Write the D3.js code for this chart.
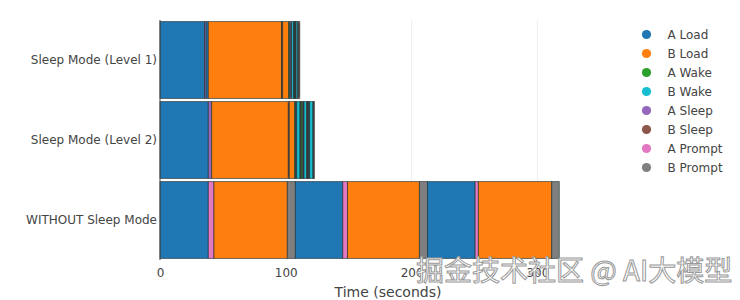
<!DOCTYPE html>
<html><head><meta charset="utf-8">
<script src="https://cdn.jsdelivr.net/npm/d3@7"></script>
<style>body{margin:0;background:#fff}svg{display:block}</style>
</head><body>
<svg id="c" width="740" height="300"></svg>
<script>
// ---- data ----
const categories = ["Sleep Mode (Level 1)", "Sleep Mode (Level 2)", "WITHOUT Sleep Mode"];
const eventTypes = ["A Load", "B Load", "A Wake", "B Wake", "A Sleep", "B Sleep", "A Prompt", "B Prompt"];
const eventColors = ["#1f77b4", "#ff7f0e", "#2ca02c", "#17becf", "#9467bd", "#8c564b", "#e377c2", "#7f7f7f"];
const xTicks = [0, 100, 200, 300];

const level1Events = ["A Load", "A Sleep", "A Load", "B Load", "B Sleep", "B Load",
  "A Wake", "A Prompt", "A Sleep", "B Wake", "B Prompt", "B Sleep",
  "A Wake", "A Prompt", "A Sleep", "B Wake", "B Prompt", "B Sleep"];
const level1Durations = [35.4, 1.3, 1.7, 58.2, 0.9, 4.8,
  0.8, 0.8, 0.8, 1.5, 0.5, 0.5,
  0.4, 0.3, 0.3, 1.3, 0.8, 0.8];

const level2Events = ["A Load", "A Sleep", "B Load", "B Sleep", "B Load",
  "A Wake", "A Prompt", "A Sleep", "B Wake", "B Prompt", "B Sleep",
  "A Wake", "A Prompt", "A Sleep", "B Wake", "B Prompt", "B Sleep",
  "A Wake", "A Prompt", "A Sleep", "B Wake", "B Prompt", "B Sleep"];
const level2Durations = [38.4, 2.7, 60.9, 0.8, 4.3,
  0.6, 0.5, 0.5, 2.6, 0.5, 0.5,
  1.2, 0.5, 0.5, 2.1, 0.5, 0.5,
  0.4, 0.5, 0.5, 2.6, 0.5, 0.6];

const withoutEvents = ["A Load", "A Prompt", "B Load", "B Prompt",
  "A Load", "A Prompt", "B Load", "B Prompt",
  "A Load", "A Prompt", "B Load", "B Prompt"];
const withoutDurations = [38.4, 4.5, 58.3, 6.4,
  37.7, 3.8, 57.1, 6.4,
  37.9, 2.6, 58.3, 6.0];

const xMax = 362.5;

// ---- build ----
const rows = [
  {cat: categories[0], ev: level1Events, du: level1Durations},
  {cat: categories[1], ev: level2Events, du: level2Durations},
  {cat: categories[2], ev: withoutEvents, du: withoutDurations}
];
const segs = [];
rows.forEach(r => {
  let acc = 0;
  r.ev.forEach((e, i) => { segs.push({cat: r.cat, ev: e, x0: acc, x1: acc + r.du[i]}); acc += r.du[i]; });
});

const svg = d3.select("#c");
const font = "'DejaVu Sans', Verdana, sans-serif";
const x = d3.scaleLinear().domain([0, xMax]).range([160, 616]);
const y = d3.scaleBand().domain(categories).range([20, 260]).paddingInner(0.04).paddingOuter(0.02);
const color = d3.scaleOrdinal().domain(eventTypes).range(eventColors);

// grid
svg.append("g").selectAll("line").data(xTicks.filter(d => d > 0)).join("line")
  .attr("x1", d => x(d)).attr("x2", d => x(d)).attr("y1", 20).attr("y2", 260)
  .attr("stroke", "#eee").attr("stroke-width", 1);

// bars
svg.append("g").selectAll("rect").data(segs).join("rect")
  .attr("x", d => x(d.x0)).attr("width", d => x(d.x1) - x(d.x0))
  .attr("y", d => y(d.cat)).attr("height", y.bandwidth())
  .attr("fill", d => color(d.ev))
  .attr("stroke", "#1e2e2e").attr("stroke-opacity", 0.7).attr("stroke-width", 0.9);

// zero line
svg.append("line").attr("x1", x(0)).attr("x2", x(0)).attr("y1", 20).attr("y2", 260)
  .attr("stroke", "#444").attr("stroke-width", 1);

// x axis
const xa = svg.append("g").attr("transform", "translate(0,260)")
  .call(d3.axisBottom(x).tickValues(xTicks).tickSize(0).tickPadding(8));
xa.select(".domain").remove();
xa.selectAll("text").attr("font-family", font).attr("font-size", 12).attr("fill", "#444");

// y axis
const ya = svg.append("g").attr("transform", "translate(160,0)")
  .call(d3.axisLeft(y).tickSize(0).tickPadding(3));
ya.select(".domain").remove();
ya.selectAll("text").attr("font-family", font).attr("font-size", 12).attr("fill", "#444");

// axis title
svg.append("text").attr("x", x(xMax / 2)).attr("y", 297).attr("text-anchor", "middle")
  .attr("font-family", font).attr("font-size", 14).attr("fill", "#444").text("Time (seconds)");

// legend
const lg = svg.append("g").selectAll("g").data(eventTypes).join("g")
  .attr("transform", (d, i) => `translate(646.5,${34.5 + i * 19})`);
lg.append("circle").attr("r", 4.6).attr("fill", d => color(d));
lg.append("text").attr("x", 21).attr("dy", "0.35em").attr("font-family", font)
  .attr("font-size", 12).attr("fill", "#444").text(d => d);

// watermark
svg.append("text").attr("x", 416).attr("y", 281)
  .attr("font-family", "'Noto Sans CJK SC', sans-serif").attr("font-size", 28)
  .attr("fill", "#fff").attr("stroke", "#999").attr("stroke-width", 1)
  .text("掘金技术社区 @ AI大模型");
</script>
</body></html>
